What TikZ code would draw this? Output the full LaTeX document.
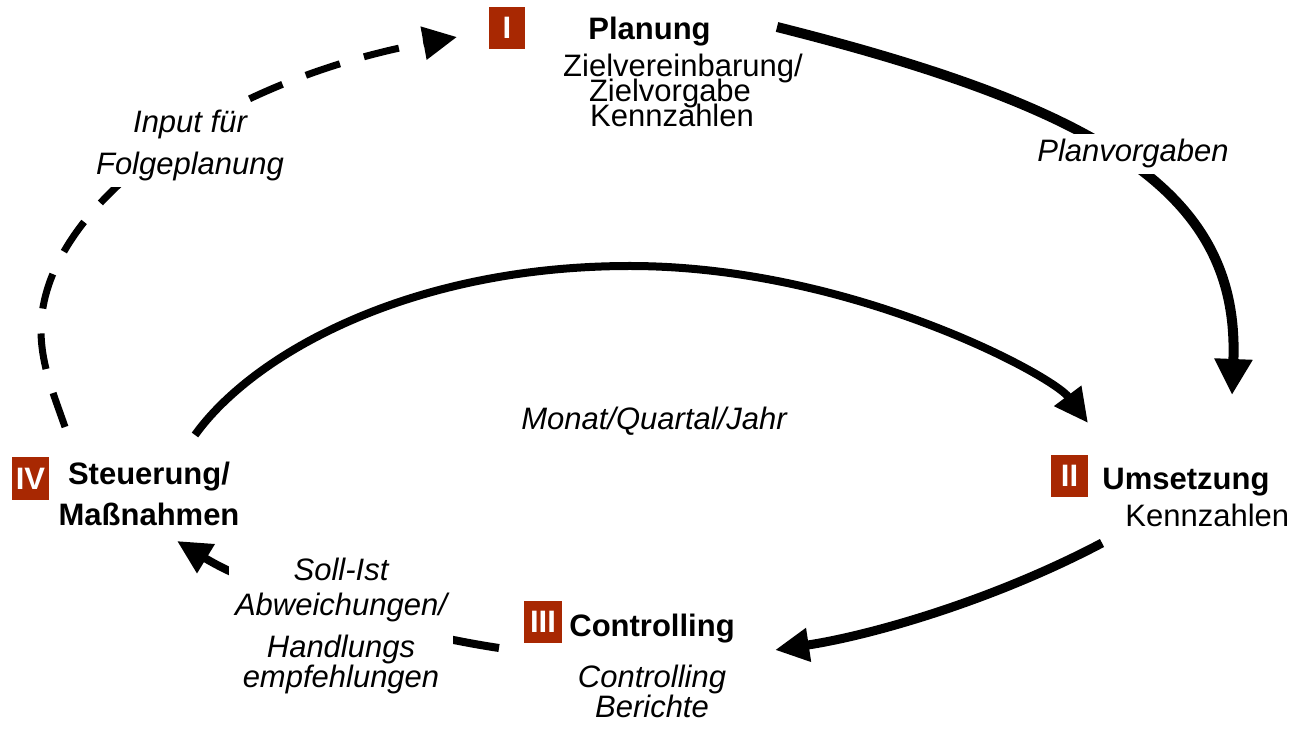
\documentclass[tikz,border=0pt]{standalone}
\usepackage{fontspec}
\setmainfont{Liberation Sans}
\usetikzlibrary{arrows.meta}
\definecolor{numred}{RGB}{168,40,2}
\tikzset{
  txt/.style={font=\fontsize{15.5pt}{13pt}\selectfont, inner sep=0pt},
  btxt/.style={font=\fontsize{15.5pt}{13pt}\selectfont\bfseries, inner sep=0pt},
  itxt/.style={font=\fontsize{15.5pt}{13pt}\selectfont\itshape, inner sep=0pt},
  lbl/.style={itxt, fill=white, inner sep=3pt},
  numbox/.style={fill=numred, text=white, font=\fontsize{15.5pt}{13pt}\selectfont\bfseries,
    inner sep=0pt, minimum width=18.5pt, minimum height=21pt},
  tipA/.style={-{Triangle[length=17pt,width=16pt]}},
  flow/.style={draw=black, line width=4pt, tipA},
  dashflow/.style={draw=black, line width=3.5pt, dash pattern=on 18pt off 12.5pt, tipA},
}
\begin{document}
\begin{tikzpicture}[x=0.5pt,y=-0.5pt]
\useasboundingbox (0,0) rectangle (1296,731);

% coordinates for connector ends
\coordinate (a1s) at (777,27);
\coordinate (a1e) at (1232,395);
\coordinate (a2s) at (1102,543);
\coordinate (a2e) at (775,650);
\coordinate (a3s) at (499,648);
\coordinate (a3e) at (177,541);
\coordinate (a4s) at (195,435);
\coordinate (a4m) at (630,266);
\coordinate (a4e) at (1088,423);
\coordinate (a5s) at (65,427);
\coordinate (a5m) at (41,330);
\coordinate (a5e) at (457,37);

% connectors
\draw[flow, line width=5pt, -{Triangle[length=18pt,width=18pt]}] (a1s) .. controls (1107,110) and (1240,195) .. (a1e);
\draw[flow, line width=4.5pt] (a2s) .. controls (996,599) and (874,635) .. (a2e);
\draw[flow] (a3s) .. controls (399,633) and (262,593) .. (a3e);
\draw[flow] (a4s) .. controls (253,354) and (410,266) .. (a4m)
               .. controls (850,266) and (1052,375) .. (a4e);
\draw[dashflow] (a5s) .. controls (54,395) and (41,365) .. (a5m)
                   .. controls (41,210) and (212,82) .. (a5e);

% number boxes
\node[numbox, minimum width=18pt] (n1) at (507,28) {I};
\node[numbox] (n2) at (1069.5,476) {II};
\node[numbox, minimum width=19pt] (n3) at (543,622) {III};
\node[numbox, minimum height=21.5pt] (n4) at (30.5,478.5) {IV};

% phase texts
\node[btxt, anchor=base] (plan) at (649.5,40) {Planung};
\node[txt, anchor=base] (plan1) at (683,77) {Zielvereinbarung/};
\node[txt, anchor=base] (plan2) at (670,102) {Zielvorgabe};
\node[txt, anchor=base] (plan3) at (672,127) {Kennzahlen};

\node[btxt, anchor=base west] (ums) at (1102,490) {Umsetzung};
\node[txt, anchor=base west] (ums1) at (1125,527) {Kennzahlen};

\node[btxt, anchor=base west] (ctrl) at (569,637) {Controlling};
\node[itxt, anchor=base, align=center] (ctrl1) at (652,718) {Controlling\\Berichte};

\node[btxt, anchor=base, align=center] (steu) at (149,526) {Steuerung/\\[5pt]Maßnahmen};

\node[itxt, anchor=base] (mqj) at (654,430) {Monat/Quartal/Jahr};

% labels on connectors
\node[lbl, anchor=base, align=center] (inp) at (190,175) {Input für\\[6pt]Folgeplanung};
\node[lbl, anchor=base] (pv) at (1133,162) {Planvorgaben};
\node[lbl, anchor=base, align=center] (soll) at (341,688) {Soll-Ist\\[4.5pt]Abweichungen/\\[5.5pt]Handlungs\\empfehlungen};
\end{tikzpicture}
\end{document}
